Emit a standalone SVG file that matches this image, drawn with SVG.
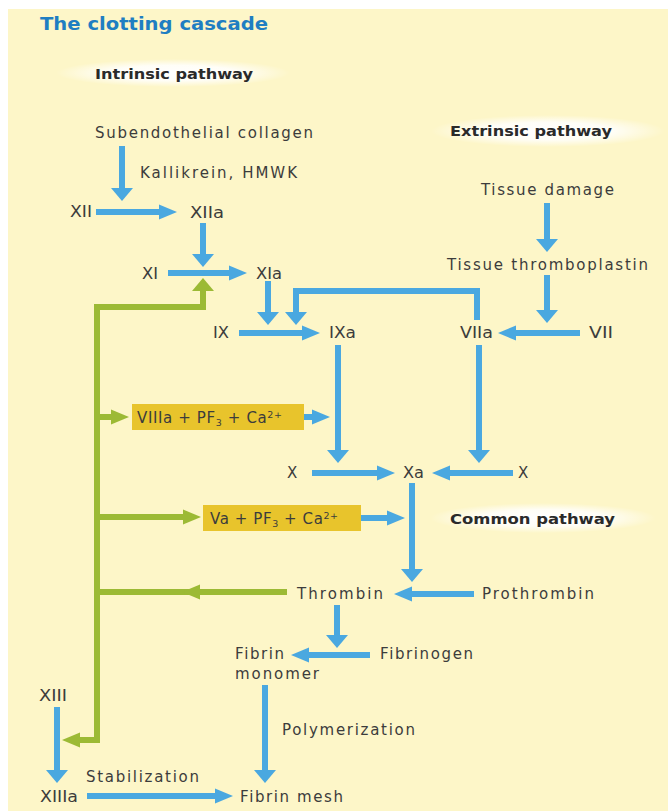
<svg xmlns="http://www.w3.org/2000/svg" width="668" height="811" viewBox="0 0 668 811">
<style>
.t{font-family:"DejaVu Sans","Open Sans",sans-serif;font-size:15px;fill:#3c3c3c}
.h{font-family:"DejaVu Sans","Open Sans",sans-serif;font-size:14px;font-weight:bold;fill:#2a2a2a}
.ti{font-family:"DejaVu Sans","Open Sans",sans-serif;font-size:18px;font-weight:bold;fill:#1f7ec2}
.b{fill:none;stroke:#4aa8e0;stroke-width:6;stroke-linejoin:miter}
.g{fill:none;stroke:#9cba35;stroke-width:6;stroke-linejoin:miter}
.box{fill:#e8c42c}
</style>
<defs>
<radialGradient id="glow">
<stop offset="0" stop-color="#fff" stop-opacity="1"/>
<stop offset="0.55" stop-color="#fff" stop-opacity="0.85"/>
<stop offset="1" stop-color="#fff" stop-opacity="0"/>
</radialGradient>
<marker id="bh" markerUnits="userSpaceOnUse" markerWidth="20" markerHeight="16" refX="0" refY="8" orient="auto" overflow="visible"><path d="M0,0.5 L18,8 L0,15.5Z" fill="#4aa8e0"/></marker>
<marker id="bv" markerUnits="userSpaceOnUse" markerWidth="14" markerHeight="24" refX="0" refY="11" orient="auto" overflow="visible"><path d="M0,0 L13,11 L0,22Z" fill="#4aa8e0"/></marker>
<marker id="gh" markerUnits="userSpaceOnUse" markerWidth="20" markerHeight="16" refX="0" refY="8" orient="auto" overflow="visible"><path d="M0,0.5 L18,8 L0,15.5Z" fill="#9cba35"/></marker>
<marker id="ghs" markerUnits="userSpaceOnUse" markerWidth="20" markerHeight="16" refX="0" refY="8" orient="auto-start-reverse" overflow="visible"><path d="M0,0.5 L18,8 L0,15.5Z" fill="#9cba35"/></marker>
<marker id="gv" markerUnits="userSpaceOnUse" markerWidth="14" markerHeight="24" refX="0" refY="11" orient="auto" overflow="visible"><path d="M0,0 L13,11 L0,22Z" fill="#9cba35"/></marker>
</defs>
<rect x="0" y="0" width="668" height="811" fill="#fff"/>
<rect x="8" y="9" width="660" height="802" fill="#fdf6c8"/>
<ellipse cx="173" cy="73" rx="117" ry="14" fill="url(#glow)"/>
<ellipse cx="548" cy="131" rx="117" ry="16" fill="url(#glow)"/>
<ellipse cx="543" cy="518" rx="113" ry="15" fill="url(#glow)"/>
<text class="ti" x="40" y="30" textLength="228" lengthAdjust="spacingAndGlyphs">The clotting cascade</text>
<text class="h" x="95" y="79" textLength="158" lengthAdjust="spacingAndGlyphs">Intrinsic pathway</text>
<text class="h" x="450" y="136" textLength="162" lengthAdjust="spacingAndGlyphs">Extrinsic pathway</text>
<text class="h" x="450" y="524" textLength="165" lengthAdjust="spacingAndGlyphs">Common pathway</text>
<g id="connectors">
<path class="g" d="M80,740 H97 V307 H203 V291" marker-start="url(#ghs)" marker-end="url(#gv)"/>
<path class="g" d="M97,417 H111" marker-end="url(#gh)"/>
<path class="g" d="M97,517 H183" marker-end="url(#gh)"/>
<path class="g" d="M287,592 H200 H97" marker-mid="url(#gh)"/>
<path class="b" d="M122,146 V188" marker-end="url(#bv)"/>
<path class="b" d="M96,212 H159" marker-end="url(#bh)"/>
<path class="b" d="M203,223 V254" marker-end="url(#bv)"/>
<path class="b" d="M168,273 H229" marker-end="url(#bh)"/>
<path class="b" d="M268,281 V312" marker-end="url(#bv)"/>
<path class="b" d="M477,320 V291 H296 V312" marker-end="url(#bv)"/>
<path class="b" d="M239,333 H302" marker-end="url(#bh)"/>
<path class="b" d="M547,203 V239" marker-end="url(#bv)"/>
<path class="b" d="M547,275 V310" marker-end="url(#bv)"/>
<path class="b" d="M580,333 H516" marker-end="url(#bh)"/>
<path class="b" d="M338,345 V450" marker-end="url(#bv)"/>
<path class="b" d="M479,345 V450" marker-end="url(#bv)"/>
<path class="b" d="M304,417 H312" marker-end="url(#bh)"/>
<path class="b" d="M312,473 H377" marker-end="url(#bh)"/>
<path class="b" d="M513,473 H450" marker-end="url(#bh)"/>
<path class="b" d="M412,483 V569" marker-end="url(#bv)"/>
<path class="b" d="M361,518 H387" marker-end="url(#bh)"/>
<path class="b" d="M474,594 H412" marker-end="url(#bh)"/>
<path class="b" d="M337,605 V635" marker-end="url(#bv)"/>
<path class="b" d="M370,655 H309" marker-end="url(#bh)"/>
<path class="b" d="M265,685 V770" marker-end="url(#bv)"/>
<path class="b" d="M57,707 V770" marker-end="url(#bv)"/>
<path class="b" d="M87,796 H215" marker-end="url(#bh)"/>
</g>
<g id="n-collagen"><text class="t" x="95" y="138" textLength="218" lengthAdjust="spacing">Subendothelial collagen</text></g>
<g id="n-kallikrein"><text class="t" x="140" y="178" textLength="157" lengthAdjust="spacing">Kallikrein, HMWK</text></g>
<g id="n-XII"><text class="t" x="70" y="217" textLength="22" lengthAdjust="spacingAndGlyphs">XII</text></g>
<g id="n-XIIa"><text class="t" x="190" y="218" textLength="34" lengthAdjust="spacingAndGlyphs">XIIa</text></g>
<g id="n-XI"><text class="t" x="142" y="279" textLength="16" lengthAdjust="spacingAndGlyphs">XI</text></g>
<g id="n-XIa"><text class="t" x="256" y="279" textLength="26" lengthAdjust="spacingAndGlyphs">XIa</text></g>
<g id="n-IX"><text class="t" x="213" y="338" textLength="16" lengthAdjust="spacingAndGlyphs">IX</text></g>
<g id="n-IXa"><text class="t" x="329" y="338" textLength="27" lengthAdjust="spacingAndGlyphs">IXa</text></g>
<g id="n-VIIa"><text class="t" x="460" y="338" textLength="33" lengthAdjust="spacingAndGlyphs">VIIa</text></g>
<g id="n-VII"><text class="t" x="589" y="338" textLength="24" lengthAdjust="spacingAndGlyphs">VII</text></g>
<g id="n-tissue-damage"><text class="t" x="481" y="195" textLength="133" lengthAdjust="spacing">Tissue damage</text></g>
<g id="n-thromboplastin"><text class="t" x="447" y="270" textLength="201" lengthAdjust="spacing">Tissue thromboplastin</text></g>
<g id="n-X-left"><text class="t" x="287" y="478">X</text></g>
<g id="n-Xa"><text class="t" x="403" y="478" textLength="21" lengthAdjust="spacingAndGlyphs">Xa</text></g>
<g id="n-X-right"><text class="t" x="518" y="478">X</text></g>
<g id="n-VIIIa-box"><rect class="box" x="132" y="404" width="172" height="26"/><text class="t" x="137" y="423" textLength="145" lengthAdjust="spacing">VIIIa + PF<tspan font-size="9.5" dy="3">3</tspan><tspan dy="-3"> + Ca</tspan><tspan font-size="9.5" dy="-5">2+</tspan></text></g>
<g id="n-Va-box"><rect class="box" x="203" y="505" width="158" height="26"/><text class="t" x="210" y="524" textLength="128" lengthAdjust="spacing">Va + PF<tspan font-size="9.5" dy="3">3</tspan><tspan dy="-3"> + Ca</tspan><tspan font-size="9.5" dy="-5">2+</tspan></text></g>
<g id="n-thrombin"><text class="t" x="297" y="599" textLength="86" lengthAdjust="spacing">Thrombin</text></g>
<g id="n-prothrombin"><text class="t" x="482" y="599" textLength="112" lengthAdjust="spacing">Prothrombin</text></g>
<g id="n-fibrin-monomer"><text class="t" x="235" y="659" textLength="49" lengthAdjust="spacing">Fibrin</text><text class="t" x="235" y="679" textLength="84" lengthAdjust="spacing">monomer</text></g>
<g id="n-fibrinogen"><text class="t" x="380" y="659" textLength="93" lengthAdjust="spacing">Fibrinogen</text></g>
<g id="n-polymerization"><text class="t" x="282" y="735" textLength="133" lengthAdjust="spacing">Polymerization</text></g>
<g id="n-XIII"><text class="t" x="39" y="701" textLength="28" lengthAdjust="spacingAndGlyphs">XIII</text></g>
<g id="n-XIIIa"><text class="t" x="40" y="802" textLength="38" lengthAdjust="spacingAndGlyphs">XIIIa</text></g>
<g id="n-stabilization"><text class="t" x="86" y="782" textLength="113" lengthAdjust="spacing">Stabilization</text></g>
<g id="n-fibrin-mesh"><text class="t" x="240" y="802" textLength="103" lengthAdjust="spacing">Fibrin mesh</text></g>
</svg>
